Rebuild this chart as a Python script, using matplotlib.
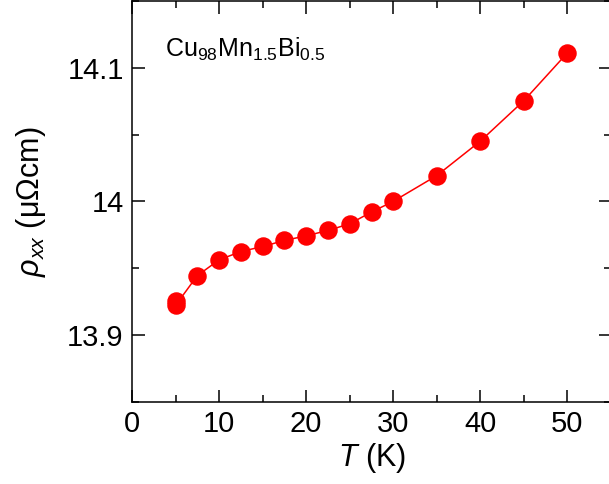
import matplotlib
matplotlib.use("Agg")
import matplotlib.pyplot as plt
from matplotlib.ticker import MultipleLocator

plt.rcParams["font.family"] = ["Liberation Sans", "DejaVu Sans"]
plt.rcParams["mathtext.fontset"] = "custom"
plt.rcParams["mathtext.rm"] = "Liberation Sans"
plt.rcParams["mathtext.it"] = "Liberation Sans:italic"
plt.rcParams["mathtext.bf"] = "Liberation Sans:bold"

# temperature (K) and longitudinal resistivity (uOhm cm)
temperature = [5, 5, 7.5, 10, 12.5, 15, 17.5, 20, 22.5, 25, 27.5, 30, 35, 40, 45, 50]
rho_xx = [13.9253, 13.9221, 13.9444, 13.9562, 13.9624, 13.9662, 13.9707, 13.9742,
          13.9782, 13.9832, 13.9920, 14.0000, 14.0193, 14.0451, 14.0754, 14.1112]

RED = "#ff0000"

fig = plt.figure(figsize=(6.09, 4.84), dpi=100)
ax = fig.add_axes([132 / 609, 82.3 / 484, 479 / 609, 400.7 / 484])

ax.plot(temperature, rho_xx, color=RED, lw=1.1, marker="o", ms=12.3,
        mfc=RED, mec=RED, zorder=3)

ax.set_xlim(0, 55)
ax.set_ylim(13.85, 14.15)
ax.xaxis.set_major_locator(MultipleLocator(10))
ax.xaxis.set_minor_locator(MultipleLocator(5))
ax.yaxis.set_minor_locator(MultipleLocator(0.05))
ax.set_yticks([13.9, 14.0, 14.1])
ax.set_yticklabels(["13.9", "14", "14.1"])

ax.tick_params(which="both", direction="in", top=True, right=True,
               width=1.1, labelsize=21, pad=6)
ax.tick_params(which="major", length=9)
ax.tick_params(which="minor", length=5)
for s in ax.spines.values():
    s.set_linewidth(1.1)

ax.set_xlabel(r"$T$ (K)", fontsize=22, labelpad=2)
ax.set_ylabel(r"$\rho_{xx}$ (μΩcm)", fontsize=22, labelpad=14)

ax.text(3.8, 14.108, r"Cu$_{98}$Mn$_{1.5}$Bi$_{0.5}$", fontsize=18,
        ha="left", va="baseline")

fig.savefig("out.png", dpi=100)
